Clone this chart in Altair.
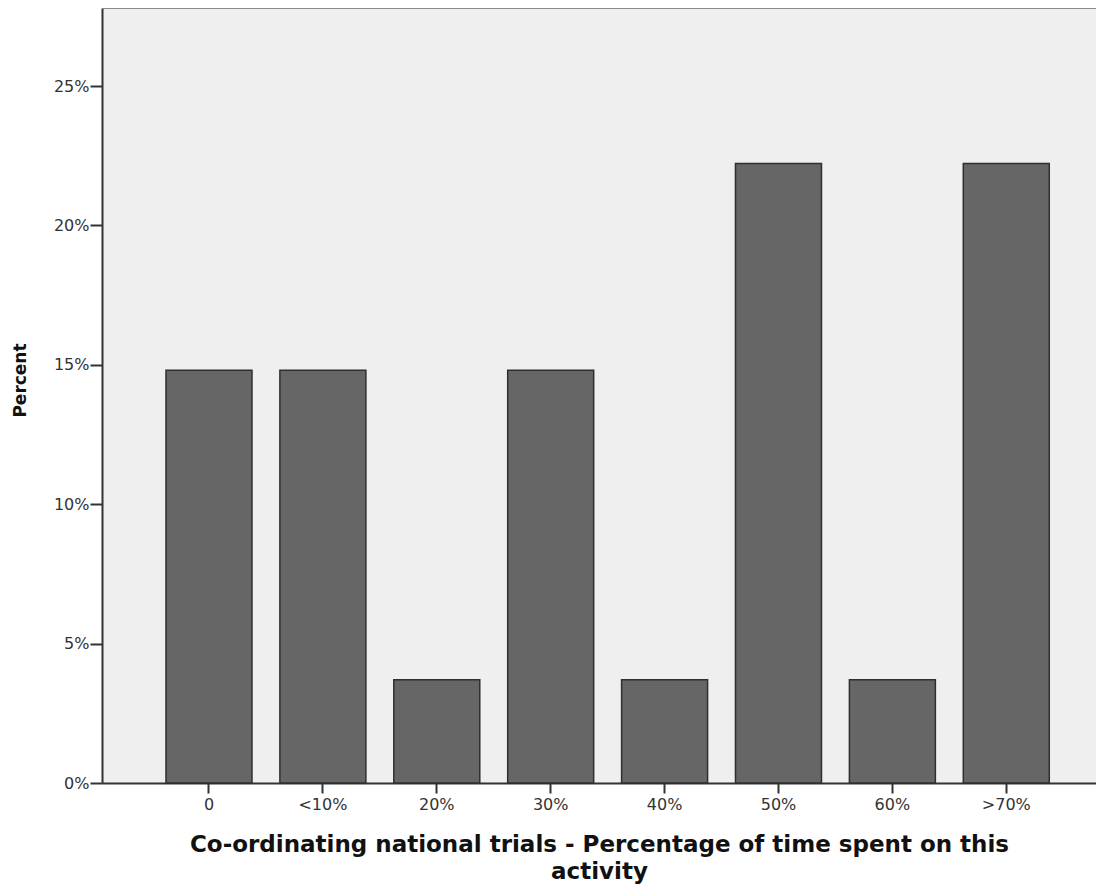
import altair as alt
import pandas as pd

categories = ["0", "<10%", "20%", "30%", "40%", "50%", "60%", ">70%"]
percents = [14.81, 14.81, 3.70, 14.81, 3.70, 22.22, 3.70, 22.22]
y_ticks = [0, 5, 10, 15, 20, 25]

df = pd.DataFrame({"cat": categories, "pct": percents})

W, H = 994, 775
FONT = "DejaVu Sans"

bars = alt.Chart(df).mark_bar(
    color="#666666", stroke="#2f2f2f", strokeWidth=1.5
).encode(
    x=alt.X(
        "cat:N", sort=categories,
        scale=alt.Scale(paddingInner=0.245, paddingOuter=0.486, align=0.578),
        axis=alt.Axis(
            title=["Co-ordinating national trials - Percentage of time spent on this", "activity"],
            titleFont=FONT, titleFontSize=23, titleFontWeight="bold", titleColor="#111",
            titleY=68, titleBaseline="alphabetic", titleLineHeight=27,
            labelFont=FONT, labelFontSize=16, labelColor="#333", labelAngle=0,
            labelPadding=3, tickSize=10, tickColor="#333", tickWidth=2,
            domainColor="#333", domainWidth=2,
        ),
    ),
    y=alt.Y(
        "pct:Q",
        scale=alt.Scale(domain=[0, 27.8], nice=False, zero=True),
        axis=alt.Axis(
            title="Percent", values=y_ticks, labelExpr="datum.value + '%'",
            titleFont=FONT, titleFontSize=17, titleFontWeight="bold", titleColor="#111",
            titleX=-82, titleY=372, titleBaseline="middle", titleAngle=-90,
            labelFont=FONT, labelFontSize=16, labelColor="#333",
            labelPadding=1, tickSize=12, tickColor="#333", tickWidth=2,
            domainColor="#333", domainWidth=2, grid=False,
        ),
    ),
)

top_border = alt.Chart(df).mark_rule(color="#888888", strokeWidth=2).encode(
    x=alt.value(0), x2=alt.value(W), y=alt.value(0)
)

chart = alt.layer(bars, top_border).properties(
    width=W, height=H,
    autosize=alt.AutoSizeParams(type="none"),
    padding={"left": 94, "top": 0, "right": 0, "bottom": 103},
    background="white",
).configure_view(stroke=None, fill="#efefef")

chart.save("out.html", embed_options={"renderer": "svg", "actions": False})
